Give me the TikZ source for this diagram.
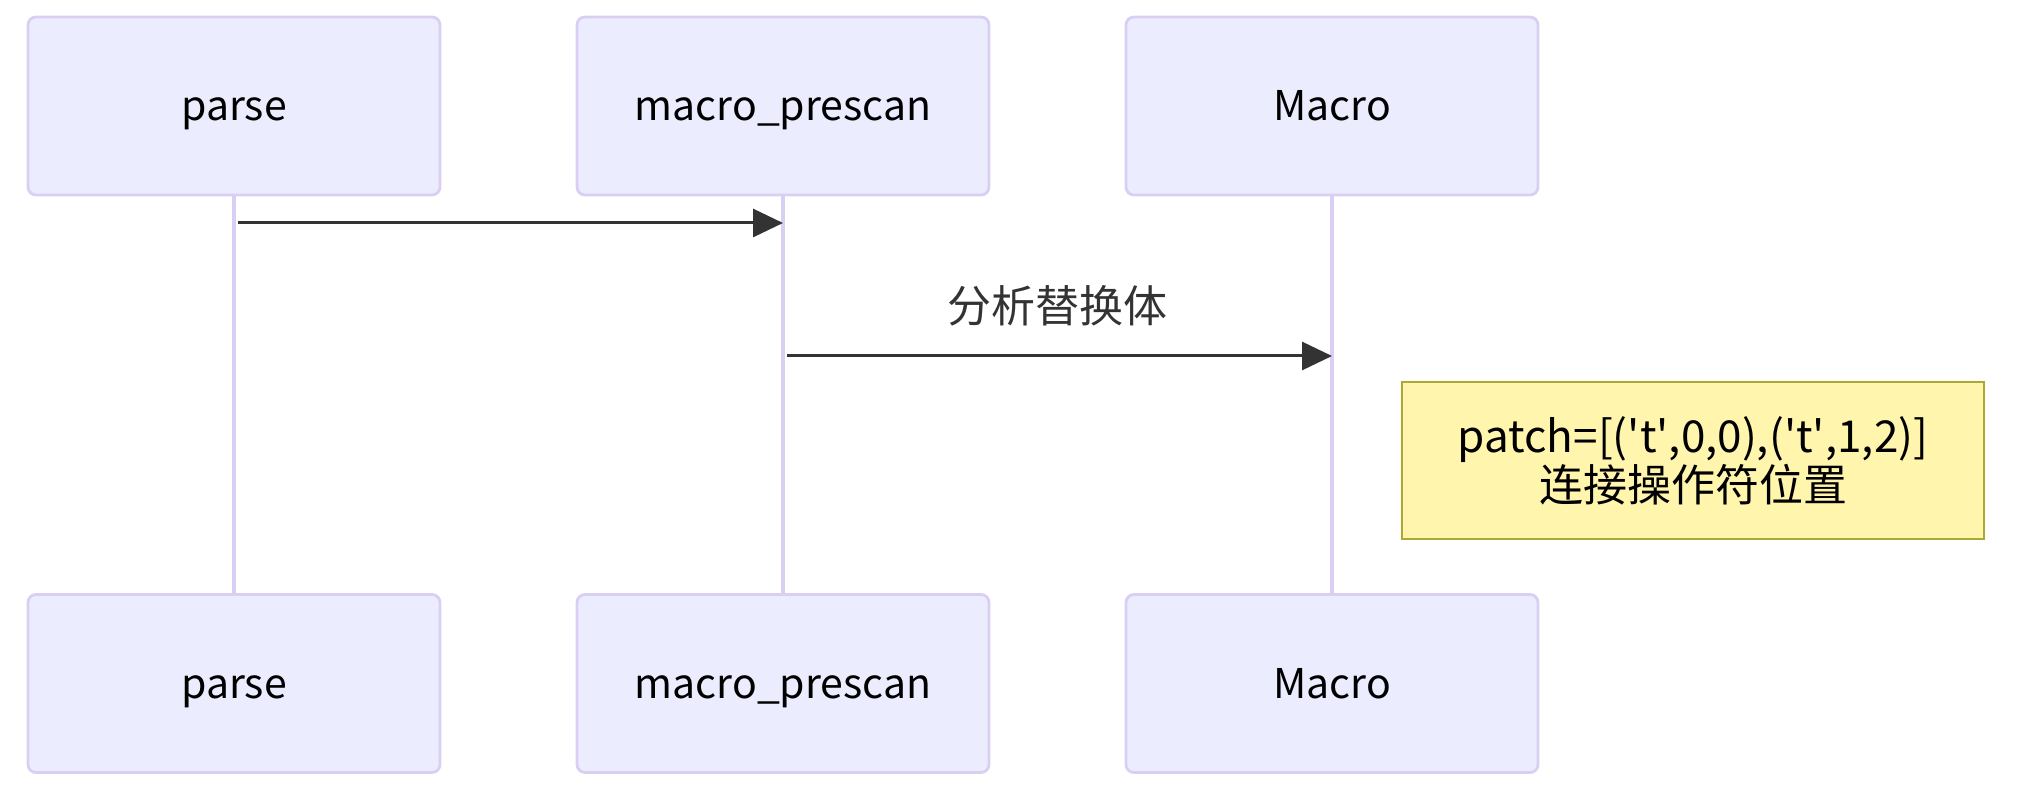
\documentclass[tikz,border=0pt]{standalone}
\usepackage{fontspec}
\setmainfont{Noto Sans CJK SC}
\usetikzlibrary{arrows.meta}
\definecolor{actorfill}{HTML}{ECECFF}
\definecolor{actorline}{HTML}{D9CFF3}
\definecolor{msgcol}{HTML}{333333}
\definecolor{notefill}{HTML}{FFF5AD}
\definecolor{noteline}{HTML}{AAAA33}

\begin{document}
\begin{tikzpicture}[x=0.5pt,y=-0.5pt,
	actor/.style={draw=actorline, fill=actorfill, line width=1.4pt, rounded corners=4pt,
		minimum width=206pt, minimum height=89pt, text height=15pt, text depth=0pt,
		font=\fontsize{20.5}{24}\selectfont},
	life/.style={draw=actorline, line width=2.2pt},
	msg/.style={draw=msgcol, line width=1.5pt, -{Triangle[length=15pt,width=14pt]}},
	msglabel/.style={text=msgcol, font=\fontsize{22}{26}\selectfont},
	notebox/.style={draw=noteline, fill=notefill, line width=1.4pt, minimum width=291pt,
		minimum height=78.5pt, align=center, font=\fontsize{22}{24.5}\selectfont}]
	\useasboundingbox (0,0) rectangle (2017,801);
	%actors with lifelines
	\foreach \n/\x/\t in {parse/234/parse, prescan/783/macro\_prescan, macro/1332/Macro}{
		\node[actor] (\n top) at (\x,106) {\t};
		\node[actor] (\n bot) at (\x,683.5) {\t};
		\draw[life] (\n top) -- (\n bot);
	}
	%messages
	\coordinate (m1s) at (238,223);
	\coordinate (m1e) at (783,223);
	\draw[msg] (m1s) -- (m1e);
	\node[msglabel] (m2text) at (1057,306) {分析替换体};
	\coordinate (m2s) at (787,356);
	\coordinate (m2e) at (1332,356);
	\draw[msg] (m2s) -- (m2e);
	%note
	\node[notebox] (patchnote) at (1693,460.5)
		{patch=[(\textquotesingle t\textquotesingle,0,0),(\textquotesingle t\textquotesingle,1,2)]\\连接操作符位置};
\end{tikzpicture}
\end{document}
